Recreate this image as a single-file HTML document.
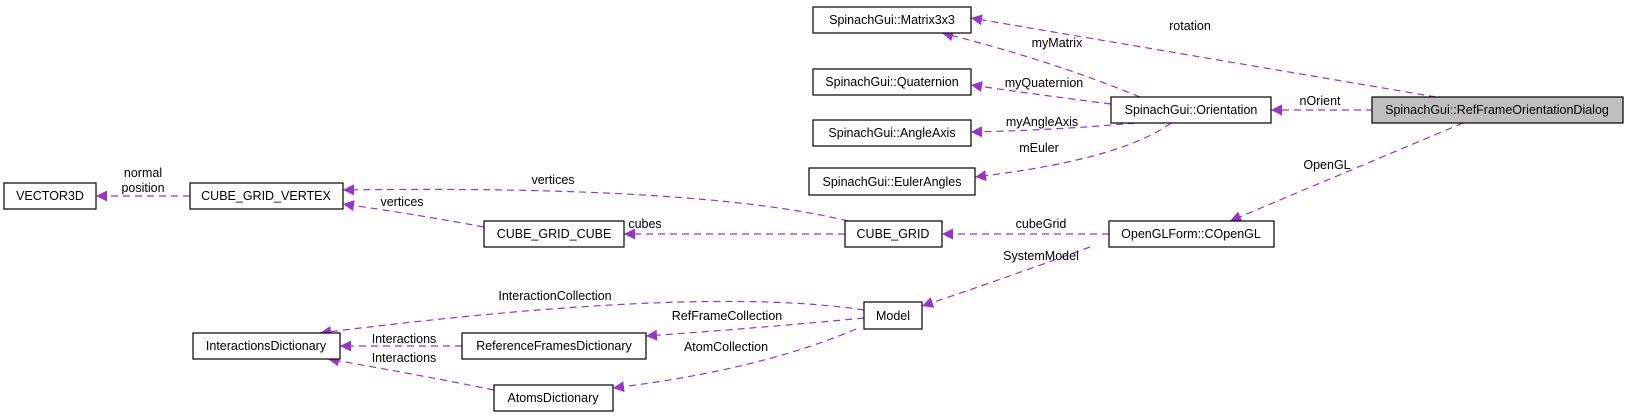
<!DOCTYPE html>
<html><head><meta charset="utf-8"><style>
html,body{margin:0;padding:0;background:#fff}
svg{display:block}
text{font-family:"Liberation Sans",Arial,sans-serif;font-size:12.5px;fill:#000}
.b{fill:#fff;stroke:#000;stroke-width:1.2}
.e{fill:none;stroke:#9a32cd;stroke-width:1.2;stroke-dasharray:7,5}
</style></head><body>
<svg width="1629" height="416" viewBox="0 0 1629 416" xmlns="http://www.w3.org/2000/svg">
<defs><marker id="a" viewBox="0 0 10 10" refX="10" refY="5" markerWidth="14" markerHeight="11" markerUnits="userSpaceOnUse" orient="auto"><path d="M0,0 L10,5 L0,10 z" fill="#9a32cd"/></marker></defs>
<g>
<path class="e" marker-end="url(#a)" d="M1436,97 L971,18"/>
<path class="e" marker-end="url(#a)" d="M1140,97 Q1050,60 942,33"/>
<path class="e" marker-end="url(#a)" d="M1111,104 Q1040,95 971,85"/>
<path class="e" marker-end="url(#a)" d="M1135,123 Q1060,130 971,132"/>
<path class="e" marker-end="url(#a)" d="M1171,123 Q1120,160 975,177"/>
<path class="e" marker-end="url(#a)" d="M1373,110 L1271,110"/>
<path class="e" marker-end="url(#a)" d="M1463,123 L1230,221"/>
<path class="e" marker-end="url(#a)" d="M190,196 L96,196"/>
<path class="e" marker-end="url(#a)" d="M848,221 Q700,185 343,190"/>
<path class="e" marker-end="url(#a)" d="M484,227 Q420,215 343,204"/>
<path class="e" marker-end="url(#a)" d="M845,234 L624,234"/>
<path class="e" marker-end="url(#a)" d="M1109,234 L942,234"/>
<path class="e" marker-end="url(#a)" d="M1090,247 Q1000,280 922,306"/>
<path class="e" marker-end="url(#a)" d="M864,310 Q700,285 320,333"/>
<path class="e" marker-end="url(#a)" d="M864,318 Q760,328 646,336"/>
<path class="e" marker-end="url(#a)" d="M856,329 Q760,370 613,388"/>
<path class="e" marker-end="url(#a)" d="M462,346 L340,346"/>
<path class="e" marker-end="url(#a)" d="M494,390 Q420,375 328,359"/>
</g>
<g>
<rect class="b" x="813" y="7" width="158" height="26"/><text x="892" y="24" text-anchor="middle">SpinachGui::Matrix3x3</text>
<rect class="b" x="813" y="69" width="158" height="26"/><text x="892" y="86" text-anchor="middle">SpinachGui::Quaternion</text>
<rect class="b" x="1111" y="97" width="160" height="26"/><text x="1191" y="114" text-anchor="middle">SpinachGui::Orientation</text>
<rect class="b" x="813" y="120" width="158" height="26"/><text x="892" y="137" text-anchor="middle">SpinachGui::AngleAxis</text>
<rect class="b" x="809" y="168" width="166" height="27"/><text x="892" y="186" text-anchor="middle">SpinachGui::EulerAngles</text>
<rect x="1372" y="97" width="251" height="26" fill="#bfbfbf" stroke="#000" stroke-width="1.2"/><text x="1497" y="114" text-anchor="middle">SpinachGui::RefFrameOrientationDialog</text>
<rect class="b" x="4" y="183" width="92" height="26"/><text x="50" y="200" text-anchor="middle">VECTOR3D</text>
<rect class="b" x="190" y="183" width="153" height="26"/><text x="266" y="200" text-anchor="middle">CUBE_GRID_VERTEX</text>
<rect class="b" x="484" y="221" width="140" height="26"/><text x="554" y="238" text-anchor="middle">CUBE_GRID_CUBE</text>
<rect class="b" x="845" y="221" width="97" height="26"/><text x="893" y="238" text-anchor="middle">CUBE_GRID</text>
<rect class="b" x="1109" y="221" width="165" height="26"/><text x="1191" y="238" text-anchor="middle">OpenGLForm::COpenGL</text>
<rect class="b" x="864" y="302" width="58" height="27"/><text x="893" y="320" text-anchor="middle">Model</text>
<rect class="b" x="193" y="333" width="147" height="26"/><text x="266" y="350" text-anchor="middle">InteractionsDictionary</text>
<rect class="b" x="462" y="333" width="184" height="26"/><text x="554" y="350" text-anchor="middle">ReferenceFramesDictionary</text>
<rect class="b" x="494" y="385" width="119" height="26"/><text x="553" y="402" text-anchor="middle">AtomsDictionary</text>
</g>
<g text-anchor="middle">
<text x="1190" y="30">rotation</text>
<text x="1057" y="47">myMatrix</text>
<text x="1044" y="87">myQuaternion</text>
<text x="1042" y="126">myAngleAxis</text>
<text x="1039" y="152">mEuler</text>
<text x="1320" y="105">nOrient</text>
<text x="1327" y="169">OpenGL</text>
<text x="143" y="177">normal</text>
<text x="143" y="192">position</text>
<text x="553" y="184">vertices</text>
<text x="402" y="206">vertices</text>
<text x="645" y="228">cubes</text>
<text x="1041" y="228">cubeGrid</text>
<text x="1041" y="260">SystemModel</text>
<text x="555" y="300">InteractionCollection</text>
<text x="727" y="320">RefFrameCollection</text>
<text x="726" y="351">AtomCollection</text>
<text x="404" y="343">Interactions</text>
<text x="404" y="362">Interactions</text>
</g>
</svg>
</body></html>
